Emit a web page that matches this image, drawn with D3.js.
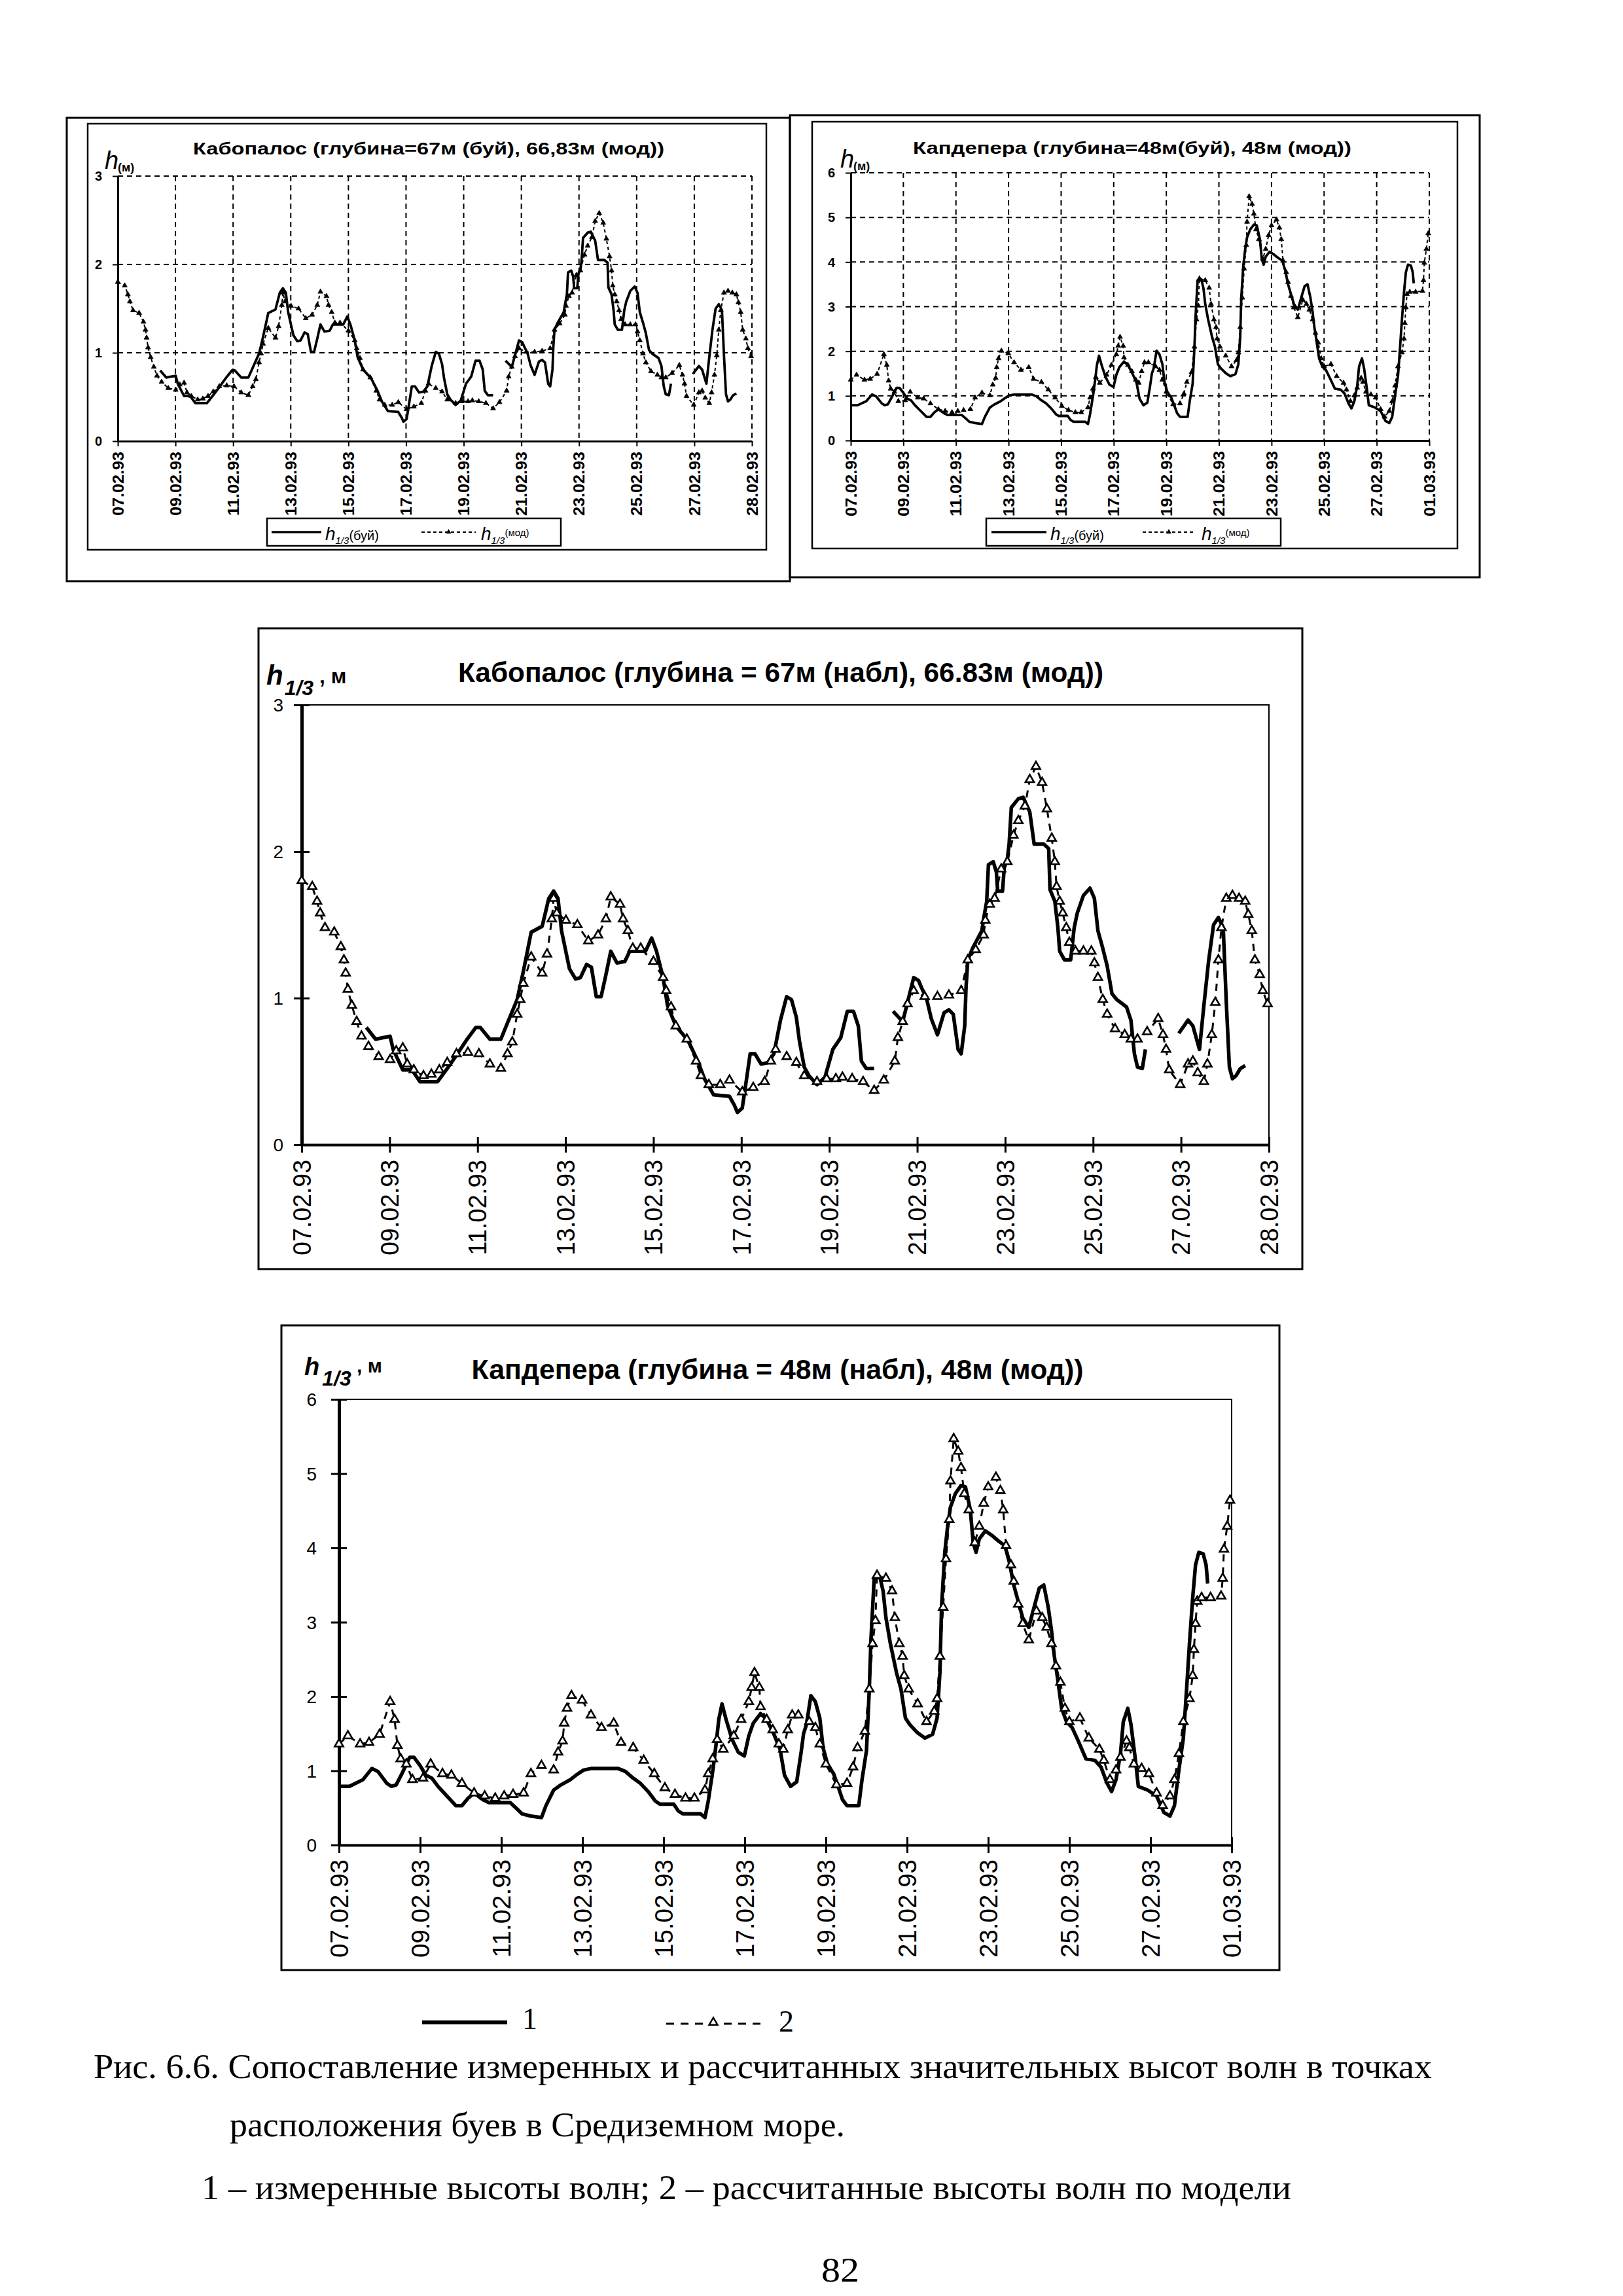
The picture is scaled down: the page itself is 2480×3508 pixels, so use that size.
<!DOCTYPE html>
<html><head><meta charset="utf-8">
<script src="https://cdn.jsdelivr.net/npm/d3@7"></script>
<style>html,body{margin:0;padding:0;background:#fff}svg{display:block}</style>
</head><body>
<script>
// ---------------- DATA ----------------
const tickDays = [0,2,4,6,8,10,12,14,16,18,20,22];
const labelsCabo = ["07.02.93","09.02.93","11.02.93","13.02.93","15.02.93","17.02.93","19.02.93","21.02.93","23.02.93","25.02.93","27.02.93","28.02.93"];
const labelsCapd = ["07.02.93","09.02.93","11.02.93","13.02.93","15.02.93","17.02.93","19.02.93","21.02.93","23.02.93","25.02.93","27.02.93","01.03.93"];
const yTicksCabo = [0,1,2,3];
const yTicksCapd = [0,1,2,3,4,5,6];

// Кабопалос: measured (buoy) [day since 07.02, h1/3 m]; null = gap
const caboObs = [[1.47,0.80],[1.68,0.72],[2.01,0.74],[2.08,0.65],[2.30,0.51],[2.51,0.51],[2.69,0.43],[3.09,0.43],[3.31,0.52],[3.52,0.61],[3.74,0.71],[3.96,0.80],[4.06,0.80],[4.28,0.72],[4.53,0.72],[4.68,0.83],[4.90,0.99],[5.04,1.18],[5.22,1.45],[5.47,1.49],[5.62,1.68],[5.73,1.73],[5.83,1.68],[5.91,1.46],[6.09,1.20],[6.23,1.13],[6.34,1.14],[6.48,1.23],[6.59,1.21],[6.70,1.01],[6.81,1.01],[6.92,1.16],[7.03,1.32],[7.17,1.24],[7.35,1.25],[7.46,1.32],[7.82,1.32],[7.96,1.41],[8.07,1.32],[8.22,1.14],[8.32,0.95],[8.51,0.81],[8.79,0.71],[9.01,0.57],[9.16,0.45],[9.37,0.34],[9.73,0.33],[9.84,0.27],[9.91,0.22],[10.02,0.25],[10.09,0.39],[10.20,0.62],[10.31,0.62],[10.45,0.55],[10.60,0.56],[10.74,0.62],[10.89,0.85],[11.03,1.01],[11.14,0.99],[11.25,0.87],[11.32,0.71],[11.43,0.53],[11.54,0.47],[11.72,0.41],[11.90,0.46],[12.08,0.65],[12.26,0.73],[12.41,0.91],[12.55,0.91],[12.66,0.81],[12.73,0.57],[12.84,0.52],[13.02,0.52],[13.2,null],[13.45,0.91],[13.67,0.84],[13.92,1.14],[14.03,1.12],[14.10,1.07],[14.21,1.00],[14.32,0.86],[14.46,0.75],[14.61,0.90],[14.72,0.92],[14.82,0.89],[14.93,0.65],[15.00,0.62],[15.08,0.81],[15.11,1.07],[15.15,1.26],[15.26,1.34],[15.47,1.46],[15.51,1.54],[15.58,1.66],[15.62,1.91],[15.73,1.93],[15.80,1.86],[15.83,1.73],[15.94,1.73],[15.98,1.89],[16.05,1.95],[16.09,2.05],[16.14,2.30],[16.30,2.36],[16.41,2.37],[16.56,2.27],[16.66,2.05],[16.88,2.05],[16.99,2.02],[17.02,1.74],[17.13,1.66],[17.20,1.48],[17.24,1.32],[17.35,1.26],[17.49,1.26],[17.57,1.48],[17.64,1.58],[17.78,1.70],[17.93,1.75],[18.03,1.68],[18.11,1.46],[18.22,1.34],[18.32,1.22],[18.43,1.03],[18.54,0.99],[18.76,0.94],[18.86,0.85],[18.94,0.62],[19.01,0.53],[19.12,0.52],[19.19,0.65],[19.5,null],[19.95,0.76],[20.16,0.85],[20.27,0.81],[20.42,0.65],[20.52,0.95],[20.63,1.26],[20.74,1.50],[20.85,1.55],[20.96,1.48],[21.03,0.97],[21.10,0.53],[21.17,0.45],[21.25,0.47],[21.35,0.52],[21.46,0.54]];

// Кабопалос: model
const caboMod = [[0,1.80],[0.24,1.76],[0.35,1.66],[0.42,1.58],[0.53,1.48],[0.74,1.45],[0.89,1.35],[0.96,1.26],[1.00,1.17],[1.05,1.06],[1.14,0.95],[1.25,0.84],[1.36,0.74],[1.52,0.67],[1.75,0.60],[2.01,0.58],[2.15,0.64],[2.30,0.66],[2.40,0.55],[2.55,0.51],[2.77,0.47],[2.95,0.48],[3.13,0.51],[3.31,0.56],[3.52,0.62],[3.78,0.63],[4.03,0.62],[4.28,0.55],[4.53,0.52],[4.68,0.62],[4.79,0.70],[4.90,0.89],[4.97,0.99],[5.04,1.10],[5.22,1.28],[5.47,1.17],[5.58,1.30],[5.69,1.54],[5.73,1.68],[5.80,1.58],[6.01,1.53],[6.27,1.50],[6.52,1.39],[6.74,1.43],[6.92,1.54],[7.03,1.69],[7.24,1.64],[7.31,1.54],[7.42,1.46],[7.53,1.34],[7.71,1.34],[8.00,1.25],[8.22,1.14],[8.29,1.05],[8.40,0.94],[8.51,0.81],[8.76,0.72],[8.97,0.57],[9.08,0.47],[9.26,0.41],[9.52,0.41],[9.73,0.44],[10.02,0.36],[10.27,0.39],[10.53,0.43],[10.67,0.57],[10.78,0.65],[11.03,0.60],[11.25,0.56],[11.43,0.47],[11.72,0.43],[11.94,0.45],[12.15,0.45],[12.30,0.46],[12.52,0.45],[12.77,0.43],[13.02,0.37],[13.24,0.44],[13.49,0.57],[13.56,0.73],[13.67,0.84],[13.78,0.96],[13.92,1.05],[14.17,1.01],[14.46,1.01],[14.72,1.02],[15.00,1.05],[15.15,1.26],[15.33,1.33],[15.51,1.43],[15.55,1.53],[15.65,1.64],[15.76,1.68],[15.91,1.88],[16.05,1.93],[16.19,2.11],[16.30,2.21],[16.45,2.31],[16.56,2.49],[16.70,2.58],[16.84,2.47],[16.95,2.29],[17.06,2.09],[17.13,1.93],[17.17,1.76],[17.24,1.66],[17.31,1.58],[17.39,1.48],[17.46,1.38],[17.60,1.32],[17.78,1.32],[17.96,1.32],[18.03,1.24],[18.11,1.14],[18.22,0.99],[18.32,0.89],[18.50,0.79],[18.72,0.75],[18.86,0.72],[19.01,0.72],[19.23,0.77],[19.48,0.86],[19.59,0.75],[19.66,0.65],[19.73,0.51],[19.98,0.41],[20.16,0.55],[20.27,0.57],[20.38,0.49],[20.52,0.43],[20.60,0.55],[20.70,0.75],[20.78,0.97],[20.85,1.26],[20.92,1.48],[21.03,1.68],[21.17,1.70],[21.32,1.68],[21.46,1.66],[21.53,1.57],[21.61,1.46],[21.68,1.26],[21.79,1.16],[21.86,1.05],[21.97,0.96]];

// Капдепера: measured (buoy)
const capdObs = [[0,0.79],[0.26,0.79],[0.59,0.88],[0.81,1.03],[0.96,0.99],[1.18,0.83],[1.29,0.79],[1.41,0.81],[1.55,0.96],[1.74,1.18],[1.85,1.18],[2.00,1.07],[2.14,0.94],[2.29,0.90],[2.44,0.79],[2.66,0.66],[2.88,0.53],[3.03,0.53],[3.18,0.63],[3.33,0.70],[3.55,0.61],[3.70,0.57],[4.22,0.57],[4.36,0.50],[4.51,0.42],[4.73,0.39],[4.99,0.37],[5.10,0.53],[5.29,0.74],[5.47,0.81],[5.70,0.88],[5.84,0.94],[6.03,1.01],[6.21,1.03],[6.88,1.03],[7.06,0.99],[7.25,0.90],[7.43,0.83],[7.62,0.72],[7.80,0.59],[7.91,0.55],[8.25,0.55],[8.36,0.46],[8.47,0.42],[8.91,0.42],[9.02,0.37],[9.10,0.59],[9.22,1.03],[9.29,1.34],[9.36,1.69],[9.44,1.90],[9.54,1.69],[9.69,1.42],[9.84,1.25],[9.99,1.20],[10.10,1.47],[10.21,1.64],[10.39,1.77],[10.54,1.69],[10.72,1.49],[10.87,1.29],[10.98,0.94],[11.13,0.79],[11.28,0.85],[11.39,1.25],[11.45,1.50],[11.52,1.62],[11.63,2.01],[11.74,1.93],[11.85,1.71],[11.93,1.31],[12.04,1.09],[12.19,0.96],[12.30,0.79],[12.41,0.61],[12.52,0.53],[12.81,0.53],[12.89,0.88],[13.00,1.27],[13.07,2.10],[13.11,2.76],[13.19,3.59],[13.33,3.61],[13.41,3.42],[13.48,3.06],[13.59,2.71],[13.74,2.32],[13.85,2.10],[13.96,1.71],[14.07,1.62],[14.26,1.51],[14.44,1.44],[14.63,1.49],[14.74,1.71],[14.81,2.32],[14.85,3.20],[14.93,3.94],[15.00,4.29],[15.07,4.55],[15.19,4.73],[15.33,4.84],[15.44,4.82],[15.56,4.51],[15.63,4.07],[15.70,3.94],[15.78,4.12],[15.93,4.23],[16.11,4.16],[16.26,4.09],[16.41,4.03],[16.52,3.81],[16.63,3.50],[16.74,3.28],[16.85,3.06],[17.00,2.93],[17.15,3.24],[17.26,3.46],[17.37,3.50],[17.48,3.20],[17.56,2.89],[17.63,2.54],[17.70,2.28],[17.81,1.84],[17.93,1.66],[18.07,1.58],[18.22,1.40],[18.41,1.16],[18.63,1.14],[18.78,1.05],[18.93,0.83],[19.04,0.72],[19.15,0.88],[19.26,1.23],[19.33,1.66],[19.44,1.84],[19.52,1.62],[19.63,1.14],[19.70,0.79],[19.93,0.74],[20.15,0.66],[20.33,0.44],[20.48,0.39],[20.59,0.53],[20.70,1.01],[20.81,1.44],[20.89,2.10],[20.96,2.71],[21.04,3.33],[21.11,3.77],[21.19,3.94],[21.30,3.92],[21.37,3.77],[21.41,3.52]];

// Капдепера: model
const capdMod = [[0,1.36],[0.22,1.47],[0.52,1.36],[0.74,1.38],[1.00,1.49],[1.26,1.93],[1.37,1.69],[1.44,1.34],[1.52,1.16],[1.66,1.09],[1.81,0.88],[2.07,0.90],[2.26,1.09],[2.55,0.96],[2.77,0.94],[3.03,0.83],[3.33,0.70],[3.59,0.66],[3.85,0.63],[4.07,0.66],[4.29,0.68],[4.55,0.70],[4.73,0.96],[4.99,1.07],[5.29,1.01],[5.40,1.25],[5.51,1.40],[5.55,1.64],[5.62,1.84],[5.73,2.01],[5.99,1.95],[6.21,1.75],[6.47,1.58],[6.77,1.64],[6.95,1.38],[7.25,1.31],[7.51,1.14],[7.77,0.96],[8.03,0.77],[8.28,0.68],[8.54,0.63],[8.76,0.63],[9.02,0.74],[9.10,0.96],[9.21,1.16],[9.32,1.42],[9.47,1.29],[9.73,1.47],[9.91,1.69],[10.10,1.93],[10.17,2.12],[10.24,2.32],[10.36,2.12],[10.39,1.86],[10.54,1.69],[10.69,1.55],[10.84,1.36],[10.95,1.29],[11.06,1.55],[11.17,1.75],[11.32,1.75],[11.59,1.66],[11.74,1.58],[11.85,1.36],[12.00,1.09],[12.26,0.81],[12.52,0.83],[12.67,1.05],[12.78,1.31],[12.96,1.53],[13.07,2.10],[13.15,2.71],[13.22,3.02],[13.26,3.63],[13.48,3.59],[13.63,3.42],[13.70,3.06],[13.81,2.71],[13.89,2.54],[13.93,2.28],[14.04,2.10],[14.26,1.90],[14.48,1.66],[14.67,1.80],[14.74,1.97],[14.81,2.54],[14.89,3.20],[14.96,3.85],[15.04,4.38],[15.07,4.90],[15.15,5.47],[15.26,5.30],[15.33,5.08],[15.41,4.73],[15.52,4.51],[15.67,4.07],[15.78,4.29],[15.89,4.60],[16.00,4.82],[16.19,4.95],[16.30,4.77],[16.37,4.51],[16.44,4.03],[16.56,3.77],[16.63,3.55],[16.74,3.24],[16.85,2.98],[17.00,2.76],[17.19,3.15],[17.33,3.06],[17.44,2.93],[17.56,2.71],[17.67,2.41],[17.78,2.19],[17.89,1.84],[18.00,1.66],[18.26,1.71],[18.48,1.44],[18.74,1.29],[18.85,1.14],[19.00,0.88],[19.15,1.01],[19.26,1.18],[19.41,1.40],[19.48,1.31],[19.59,1.09],[19.78,1.03],[19.96,0.96],[20.15,0.70],[20.30,0.53],[20.48,0.66],[20.59,0.88],[20.70,1.23],[20.81,1.66],[20.96,1.97],[21.04,2.28],[21.07,2.63],[21.11,2.98],[21.15,3.28],[21.26,3.33],[21.48,3.33],[21.74,3.35],[21.78,3.59],[21.81,3.98],[21.89,4.29],[21.96,4.64]];

// ---------------- DRAWING ----------------
const W = 2480, H = 3508;
const SANS = "'Liberation Sans', Arial, Helvetica, sans-serif";
const SERIF = "'Liberation Serif', 'Times New Roman', serif";
const svg = d3.select("body").append("svg").attr("width", W).attr("height", H).attr("viewBox", `0 0 ${W} ${H}`);
svg.append("rect").attr("width", W).attr("height", H).attr("fill", "#fff");

function frame(x0, y0, x1, y1, w) {
  svg.append("rect").attr("x", x0).attr("y", y0).attr("width", x1 - x0).attr("height", y1 - y0)
    .attr("fill", "none").attr("stroke", "#000").attr("stroke-width", w);
}
function txt(x, y, s, o = {}) {
  const t = svg.append("text").attr("x", x).attr("y", y)
    .attr("font-family", o.family || SANS).attr("font-size", o.size || 20)
    .attr("font-weight", o.weight || "normal").attr("font-style", o.style || "normal")
    .attr("text-anchor", o.anchor || "start").attr("fill", "#000").text(s);
  if (o.len) t.attr("textLength", o.len).attr("lengthAdjust", "spacingAndGlyphs");
  return t;
}

function drawChart(o) {
  const g = svg.append("g");
  const x = d3.scaleLinear().domain([0, 22]).range([o.x0, o.x1]);
  const y = d3.scaleLinear().domain([0, o.yMax]).range([o.yb, o.yt]);

  if (o.grid) {
    g.selectAll(null).data(o.yTicks.filter(v => v > 0)).join("line")
      .attr("x1", o.x0).attr("x2", o.x1).attr("y1", d => y(d)).attr("y2", d => y(d))
      .attr("stroke", "#000").attr("stroke-width", o.gridW).attr("stroke-dasharray", o.gridDash);
    g.selectAll(null).data(tickDays.slice(1)).join("line")
      .attr("x1", d => x(d)).attr("x2", d => x(d)).attr("y1", o.yt).attr("y2", o.yb)
      .attr("stroke", "#000").attr("stroke-width", o.gridW).attr("stroke-dasharray", o.gridDash);
  } else {
    g.append("path").attr("d", `M${o.x0},${o.yt}H${o.x1}V${o.yb}`)
      .attr("fill", "none").attr("stroke", "#000").attr("stroke-width", o.borderW);
  }

  const xa = g.append("g").attr("transform", `translate(0,${o.yb})`)
    .call(d3.axisBottom(x).tickValues(tickDays).tickSize(o.tickLen).tickSizeOuter(0).tickFormat(""));
  xa.selectAll(".tick line").attr("y1", -o.tickUp).attr("stroke-width", o.tickW);
  xa.select(".domain").attr("stroke-width", o.axisW);

  const ya = g.append("g").attr("transform", `translate(${o.x0},0)`)
    .call(d3.axisLeft(y).tickValues(o.yTicks).tickSize(o.tickLen).tickSizeOuter(0).tickFormat(""));
  ya.selectAll(".tick line").attr("x1", o.tickUp).attr("stroke-width", o.tickW);
  ya.select(".domain").attr("stroke-width", o.yAxisW);

  g.selectAll(null).data(o.yTicks).join("text")
    .attr("x", o.x0 - o.yLblOff).attr("y", d => y(d)).attr("dy", "0.36em")
    .attr("text-anchor", "end").attr("font-family", SANS).attr("font-size", o.yLblSize)
    .attr("font-weight", o.bold ? "bold" : "normal").text(d => d);

  g.selectAll(null).data(tickDays).join("text")
    .attr("transform", d => `translate(${x(d)},${o.yb + o.xLblOff}) rotate(-90)`)
    .attr("text-anchor", "end").attr("dy", "0.36em")
    .attr("font-family", SANS).attr("font-size", o.xLblSize)
    .attr("font-weight", o.bold ? "bold" : "normal")
    .attr("textLength", o.xLblLen).attr("lengthAdjust", "spacingAndGlyphs")
    .text((d, i) => o.labels[i]);

  const line = d3.line().defined(d => d[1] != null).x(d => x(d[0])).y(d => y(d[1]));
  g.append("path").datum(o.mod).attr("d", line).attr("fill", "none").attr("stroke", "#000")
    .attr("stroke-width", o.modW).attr("stroke-dasharray", o.modDash);
  g.append("path").datum(o.obs).attr("d", line).attr("fill", "none").attr("stroke", "#000")
    .attr("stroke-width", o.obsW).attr("stroke-linejoin", "round");
  g.selectAll(null).data(o.mod).join("path")
    .attr("d", d3.symbol(d3.symbolTriangle, o.triSize))
    .attr("transform", d => `translate(${x(d[0])},${y(d[1])})`)
    .attr("fill", o.triFill).attr("stroke", "#000").attr("stroke-width", o.triStroke);
}

// ---------- top frames ----------
frame(102, 180, 1207, 888, 3);
frame(1207, 176, 2261, 882, 3);
frame(134, 189, 1171, 840, 2.5);
frame(1241, 186, 2227, 838, 2.5);

const topStyle = {
  grid: true, gridW: 2, gridDash: "8,6", tickLen: 8, tickUp: 0, tickW: 2, axisW: 3, yAxisW: 3,
  yLblOff: 24, yLblSize: 20, bold: true, xLblOff: 16, xLblSize: 24, xLblLen: 98,
  obsW: 3.8, modW: 2, modDash: "5,4", triSize: 26, triFill: "#000", triStroke: 0.8
};
drawChart(Object.assign({}, topStyle, {
  x0: 180, x1: 1149, yt: 269, yb: 674, yMax: 3, yTicks: yTicksCabo,
  labels: labelsCabo, obs: caboObs, mod: caboMod
}));
drawChart(Object.assign({}, topStyle, {
  x0: 1300, x1: 2184, yt: 264, yb: 673, yMax: 6, yTicks: yTicksCapd,
  labels: labelsCapd, obs: capdObs, mod: capdMod, xLblLen: 100
}));

txt(655, 236, "Кабопалос (глубина=67м (буй), 66,83м (мод))", {size: 26, weight: "bold", anchor: "middle", len: 720});
txt(1730, 235, "Капдепера (глубина=48м(буй), 48м (мод))", {size: 26, weight: "bold", anchor: "middle", len: 670});
txt(160, 258, "h", {size: 38, style: "italic"});
txt(180, 262, "(м)", {size: 18, weight: "bold"});
txt(1284, 256, "h", {size: 38, style: "italic"});
txt(1304, 260, "(м)", {size: 18, weight: "bold"});

// top legends
function topLegend(bx0, bx1, l1, t1, d0, d1, t2) {
  frame(bx0, 792, bx1, 834, 2.5);
  svg.append("line").attr("x1", l1[0]).attr("x2", l1[1]).attr("y1", 813).attr("y2", 813)
    .attr("stroke", "#000").attr("stroke-width", 3.5);
  svg.append("line").attr("x1", d0).attr("x2", d1).attr("y1", 813).attr("y2", 813)
    .attr("stroke", "#000").attr("stroke-width", 2).attr("stroke-dasharray", "5,4");
  svg.append("path").attr("d", d3.symbol(d3.symbolTriangle, 28)).attr("transform", `translate(${(d0 + d1) / 2},813)`).attr("fill", "#000");
  [[t1, "(буй)"], [t2, "(мод)"]].forEach(([tx, s]) => {
    const t = svg.append("text").attr("x", tx).attr("y", 825).attr("font-family", SANS).attr("fill", "#000");
    t.append("tspan").attr("font-size", 28).attr("font-style", "italic").text("h");
    t.append("tspan").attr("font-size", 15).attr("font-style", "italic").attr("dy", 6).text("1/3");
    t.append("tspan").attr("font-size", s === "(мод)" ? 15 : 20).attr("dy", s === "(мод)" ? -12 : -6).text(s);
  });
}
topLegend(408, 857, [415, 491], 497, 644, 727, 735);
topLegend(1507, 1957, [1515, 1599], 1605, 1746, 1826, 1836);

// ---------- big charts ----------
const bigStyle = {
  grid: false, borderW: 2, tickLen: 12, tickUp: 12, tickW: 3, axisW: 4, yAxisW: 5,
  yLblSize: 28, bold: false, xLblSize: 38,
  obsW: 5.5, modW: 3, modDash: "11,9", triSize: 75, triFill: "#fff", triStroke: 2.6
};
frame(395, 960, 1990, 1939, 3);
drawChart(Object.assign({}, bigStyle, {
  x0: 461, x1: 1939, yt: 1077, yb: 1749, yMax: 3, yTicks: yTicksCabo,
  yLblOff: 28, xLblOff: 23, xLblLen: 146,
  labels: labelsCabo, obs: caboObs, mod: caboMod
}));
txt(1193, 1042, "Кабопалос (глубина = 67м (набл), 66.83м (мод))", {size: 42, weight: "bold", anchor: "middle", len: 986});
{
  const t = svg.append("text").attr("x", 407).attr("y", 1046).attr("font-family", SANS).attr("font-weight", "bold").attr("fill", "#000");
  t.append("tspan").attr("font-size", 42).attr("font-style", "italic").text("h");
  t.append("tspan").attr("font-size", 32).attr("font-style", "italic").attr("dy", 16).attr("dx", 2).text("1/3");
  t.append("tspan").attr("font-size", 32).attr("dy", -18).text(" , м");
}

frame(430, 2025, 1955, 3010, 3);
drawChart(Object.assign({}, bigStyle, {
  x0: 518, x1: 1882, yt: 2138, yb: 2819, yMax: 6, yTicks: yTicksCapd,
  yLblOff: 34, xLblOff: 22, xLblLen: 150,
  labels: labelsCapd, obs: capdObs, mod: capdMod
}));
txt(1188, 2107, "Капдепера (глубина = 48м (набл), 48м (мод))", {size: 42, weight: "bold", anchor: "middle", len: 935});
{
  const t = svg.append("text").attr("x", 465).attr("y", 2101).attr("font-family", SANS).attr("font-weight", "bold").attr("fill", "#000");
  t.append("tspan").attr("font-size", 38).attr("font-style", "italic").text("h");
  t.append("tspan").attr("font-size", 32).attr("font-style", "italic").attr("dy", 16).attr("dx", 4).text("1/3");
  t.append("tspan").attr("font-size", 30).attr("dy", -20).text(" , м");
}

// ---------- figure legend & caption ----------
svg.append("line").attr("x1", 645).attr("x2", 775).attr("y1", 3090).attr("y2", 3090).attr("stroke", "#000").attr("stroke-width", 6);
txt(798, 3100, "1", {family: SERIF, size: 46});
svg.append("line").attr("x1", 1018).attr("x2", 1162).attr("y1", 3092).attr("y2", 3092).attr("stroke", "#000").attr("stroke-width", 3).attr("stroke-dasharray", "12,10");
svg.append("path").attr("d", d3.symbol(d3.symbolTriangle, 70)).attr("transform", "translate(1090,3090)").attr("fill", "#fff").attr("stroke", "#000").attr("stroke-width", 2.5);
txt(1190, 3104, "2", {family: SERIF, size: 46});

txt(143, 3175, "Рис. 6.6. Сопоставление измеренных и рассчитанных значительных высот волн в точках", {family: SERIF, size: 52, len: 2045});
txt(351, 3264, "расположения буев в Средиземном море.", {family: SERIF, size: 52, len: 940});
txt(308, 3360, "1 – измеренные высоты волн; 2 – рассчитанные высоты волн по модели", {family: SERIF, size: 52, len: 1665});
txt(1255, 3486, "82", {family: SERIF, size: 52, len: 58});
</script>
</body></html>
